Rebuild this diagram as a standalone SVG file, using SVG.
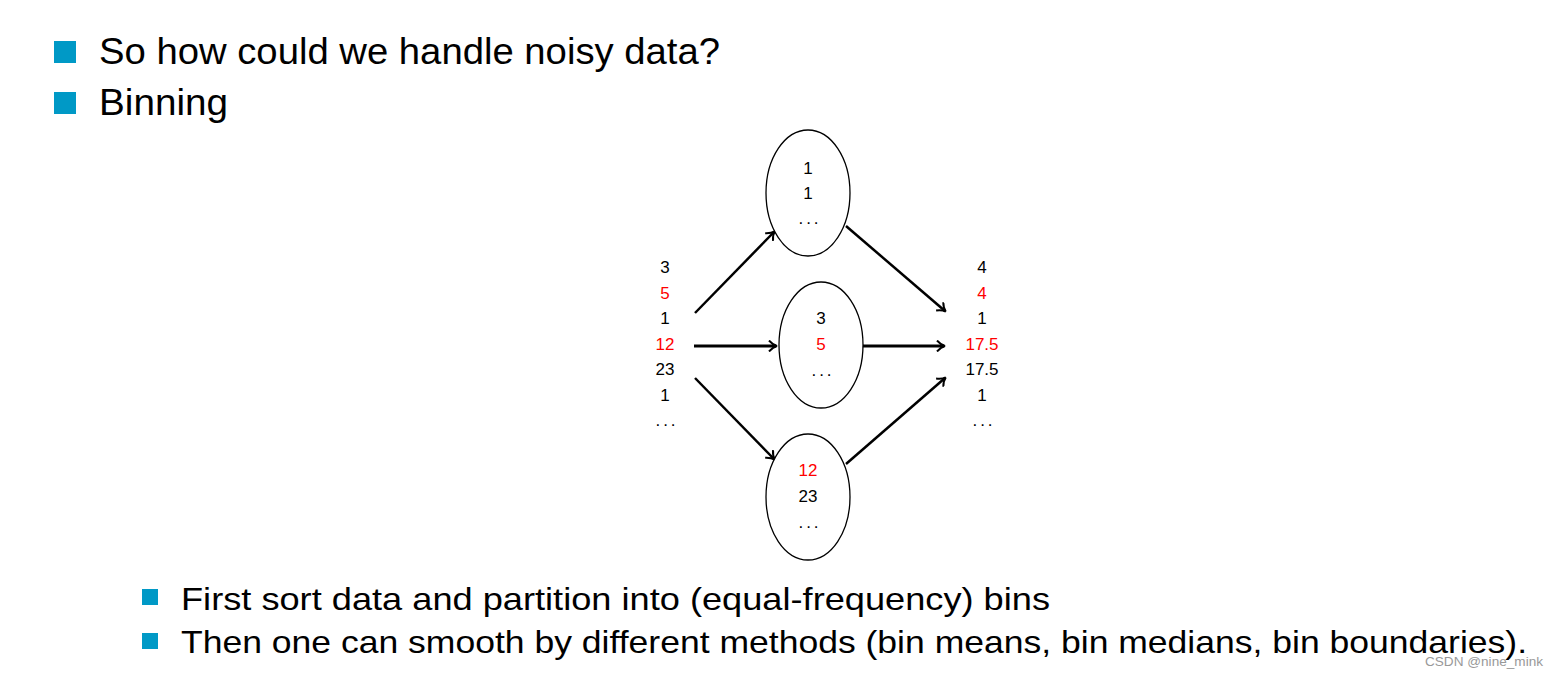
<svg xmlns="http://www.w3.org/2000/svg" width="1560" height="677" viewBox="0 0 1560 677">
<style>
.h{font-family:"Liberation Sans",Arial,sans-serif;font-size:36px;fill:#000}
.s{font-family:"Liberation Sans",Arial,sans-serif;font-size:32px;fill:#000}
.n{font-family:"Liberation Sans",Arial,sans-serif;font-size:17px;fill:#000;text-anchor:middle}
.r{fill:#ff0000}
.d{letter-spacing:3px}
.b{fill:#0099c6}
.e{fill:#fff;stroke:#000;stroke-width:1.3}
.c{fill:none;stroke:#000;stroke-width:2.5;marker-end:url(#ah)}
.w{font-family:"Liberation Sans",Arial,sans-serif;font-size:12px;fill:#999}
</style>
<defs>
<marker id="ah" markerWidth="12" markerHeight="12" refX="9" refY="6" orient="auto" markerUnits="userSpaceOnUse" viewBox="0 0 12 12">
<path d="M2,0.5 Q6,5 10,6 Q6,7 2,11.5" fill="none" stroke="#000" stroke-width="2"/>
</marker>
</defs>
<rect width="1560" height="677" fill="#fff"/>
<g id="title">
<rect class="b" x="54" y="41" width="22" height="22"/>
<text class="h" x="99" y="64" textLength="621" lengthAdjust="spacingAndGlyphs">So how could we handle noisy data?</text>
<rect class="b" x="54" y="92" width="22" height="22"/>
<text class="h" x="99" y="115" textLength="129" lengthAdjust="spacingAndGlyphs">Binning</text>
</g>
<g id="connectors">
<line class="c" x1="695" y1="313" x2="774" y2="232"/>
<line class="c" x1="694" y1="346" x2="776" y2="346" style="stroke-width:3"/>
<line class="c" x1="695" y1="378" x2="774" y2="459"/>
<line class="c" x1="846" y1="226" x2="945" y2="311"/>
<line class="c" x1="862" y1="346" x2="944" y2="346" style="stroke-width:3"/>
<line class="c" x1="846" y1="464" x2="945" y2="378"/>
</g>
<g id="input">
<text class="n" x="665" y="273">3</text>
<text class="n r" x="665" y="299">5</text>
<text class="n" x="665" y="324">1</text>
<text class="n r" x="665" y="350">12</text>
<text class="n" x="665" y="375">23</text>
<text class="n" x="665" y="401">1</text>
<text class="n d" x="667" y="426">...</text>
</g>
<g id="bin1">
<ellipse class="e" cx="808" cy="193" rx="42" ry="63"/>
<text class="n" x="808" y="174">1</text>
<text class="n" x="808" y="199">1</text>
<text class="n d" x="810" y="224">...</text>
</g>
<g id="bin2">
<ellipse class="e" cx="821" cy="345" rx="42" ry="63"/>
<text class="n" x="821" y="324">3</text>
<text class="n r" x="821" y="350">5</text>
<text class="n d" x="823" y="376">...</text>
</g>
<g id="bin3">
<ellipse class="e" cx="808" cy="497" rx="42" ry="63"/>
<text class="n r" x="808" y="476">12</text>
<text class="n" x="808" y="502">23</text>
<text class="n d" x="810" y="528">...</text>
</g>
<g id="output">
<text class="n" x="982" y="273">4</text>
<text class="n r" x="982" y="299">4</text>
<text class="n" x="982" y="324">1</text>
<text class="n r" x="982" y="350">17.5</text>
<text class="n" x="982" y="375">17.5</text>
<text class="n" x="982" y="401">1</text>
<text class="n d" x="984" y="426">...</text>
</g>
<g id="notes">
<rect class="b" x="142" y="589" width="16" height="16"/>
<text class="s" x="181" y="610" textLength="869" lengthAdjust="spacingAndGlyphs">First sort data and partition into (equal-frequency) bins</text>
<rect class="b" x="142" y="633" width="16" height="16"/>
<text class="s" x="181" y="653" textLength="1346" lengthAdjust="spacingAndGlyphs">Then one can smooth by different methods (bin means, bin medians, bin boundaries).</text>
</g>
<text class="w" x="1425" y="666" textLength="118" lengthAdjust="spacingAndGlyphs">CSDN @nine_mink</text>
</svg>
